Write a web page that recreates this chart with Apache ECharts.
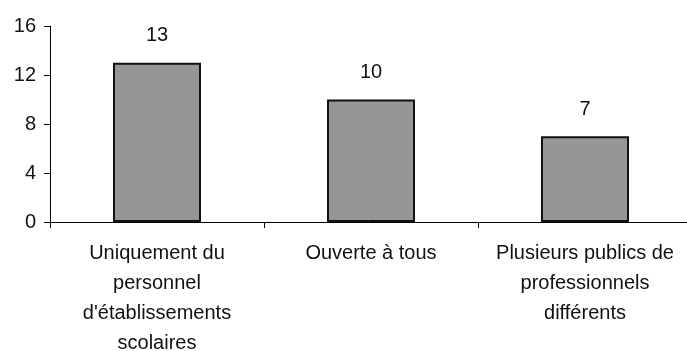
<!DOCTYPE html>
<html>
<head>
<meta charset="utf-8">
<script src="https://cdn.jsdelivr.net/npm/echarts@6/dist/echarts.min.js"></script>
<style>
  html, body { margin: 0; padding: 0; background: #fff; }
  #chart { width: 687px; height: 351px; }
</style>
</head>
<body>
<div id="chart"></div>
<script>
// categories (line breaks as in the original chart)
var categories = [
  'Uniquement du\npersonnel\nd\'établissements\nscolaires',
  'Ouverte à tous',
  'Plusieurs publics de\nprofessionnels\ndifférents'
];
var values = [13, 10, 7];
var yTicks = [0, 4, 8, 12, 16];

var font = "'Liberation Sans', Arial, sans-serif";
var chart = echarts.init(document.getElementById('chart'), null, { renderer: 'canvas' });

chart.setOption({
  animation: false,
  grid: { left: 50, top: 26, width: 642, height: 196, containLabel: false, outerBoundsMode: 'none' },
  xAxis: {
    type: 'category',
    data: categories,
    axisLine: { lineStyle: { color: '#000', width: 1 } },
    axisTick: { show: true, length: 6, lineStyle: { color: '#000' } },
    axisLabel: { color: '#111', fontFamily: font, fontSize: 20, lineHeight: 30, margin: 16, interval: 0 }
  },
  yAxis: {
    type: 'value',
    min: yTicks[0],
    max: yTicks[yTicks.length - 1],
    interval: 4,
    axisLine: { show: true, lineStyle: { color: '#000', width: 1 } },
    axisTick: { show: true, length: 6, lineStyle: { color: '#000' } },
    splitLine: { show: false },
    axisLabel: { color: '#111', fontFamily: font, fontSize: 20, margin: 14 }
  },
  series: [{
    type: 'bar',
    data: values,
    barWidth: 88,
    itemStyle: { color: '#969696', borderColor: '#111', borderWidth: 2 },
    label: { show: true, position: 'top', distance: 17, color: '#111', fontFamily: font, fontSize: 20 }
  }]
});
</script>
</body>
</html>
